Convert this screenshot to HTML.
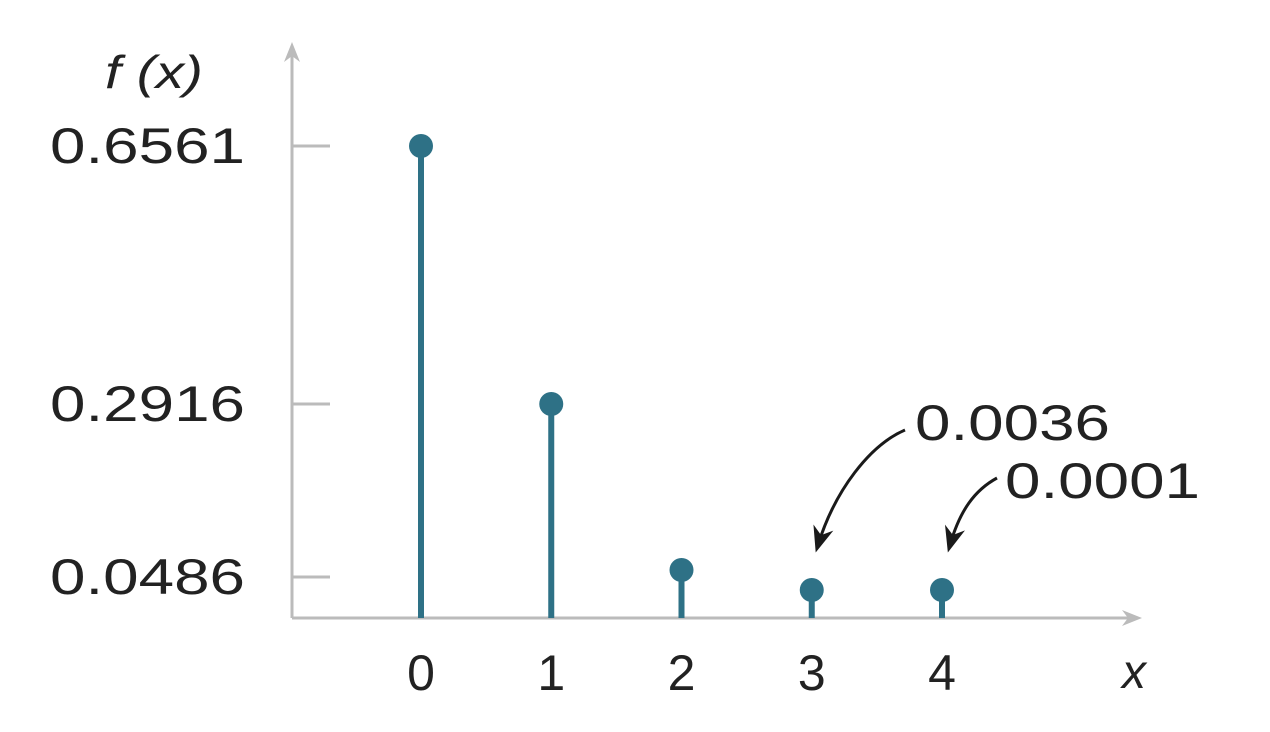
<!DOCTYPE html>
<html><head><meta charset="utf-8"><style>
html,body{margin:0;padding:0;background:#fff;}
svg{display:block;font-family:"Liberation Sans",sans-serif;}
</style></head><body>
<svg width="1270" height="732" viewBox="0 0 1270 732">
<defs>
<marker id="ga" viewBox="0 0 20 20" refX="10" refY="10" markerWidth="20" markerHeight="20" markerUnits="userSpaceOnUse" orient="auto"><path d="M0,2 L20,10 L0,18 L6,10 Z" fill="#bbbbbb"/></marker>
<marker id="ba" viewBox="0 0 20 20" refX="14" refY="10" markerWidth="26" markerHeight="26" markerUnits="userSpaceOnUse" orient="auto"><path d="M0,2 L20,10 L0,18 L6,10 Z" fill="#1a1a1a"/></marker>
</defs>
<g id="axes"></g>
<g id="marks"></g>
<text x="105" y="88" font-size="46" font-style="italic" fill="#222" textLength="98" lengthAdjust="spacingAndGlyphs">f (x)</text>
<text x="1122" y="688" font-size="48" font-style="italic" fill="#222">x</text>
<path d="M905,430 C870,445 835,490 818,545" fill="none" stroke="#1a1a1a" stroke-width="3" marker-end="url(#ba)"/>
<text x="915" y="440" font-size="50" fill="#222" textLength="195" lengthAdjust="spacingAndGlyphs">0.0036</text>
<path d="M997,478 C975,490 960,510 950,545" fill="none" stroke="#1a1a1a" stroke-width="3" marker-end="url(#ba)"/>
<text x="1005" y="498" font-size="50" fill="#222" textLength="195" lengthAdjust="spacingAndGlyphs">0.0001</text>
</svg>
<script>
const categories=[0,1,2,3,4];
const values=[0.6561,0.2916,0.0486,0.0036,0.0001];
const yTicks=[0.0486,0.2916,0.6561];
const yTickLabels=["0.0486","0.2916","0.6561"];
const NS="http://www.w3.org/2000/svg";
const x0=292,base=618;
function xs(c){return 421+c*130.25;}
const kv=[0,0.0486,0.2916,0.6561],kp=[618,577,404,146];
function ys(v){for(let i=1;i<kv.length;i++){if(v<=kv[i]||i==kv.length-1){const t=(v-kv[i-1])/(kv[i]-kv[i-1]);return kp[i-1]+t*(kp[i]-kp[i-1]);}}}
function mk(t,a,p){const e=document.createElementNS(NS,t);for(const k in a)e.setAttribute(k,a[k]);p.appendChild(e);return e;}
const ax=document.getElementById('axes'),mg=document.getElementById('marks');
let l=mk('line',{x1:x0,y1:base,x2:x0,y2:52,stroke:'#bbb','stroke-width':3,'marker-end':'url(#ga)'},ax);


l=mk('line',{x1:x0,y1:base,x2:1132,y2:base,stroke:'#bbb','stroke-width':3,'marker-end':'url(#ga)'},ax);


yTicks.forEach((v,i)=>{const y=ys(v);
 const t=mk('line',{x1:x0,y1:y,x2:330,y2:y,stroke:'#bbb','stroke-width':3},ax);
 
 
 const tx=mk('text',{x:50,y:y+17,'font-size':50,fill:'#222',textLength:195,lengthAdjust:'spacingAndGlyphs'},ax);tx.textContent=yTickLabels[i];
 
 
});
categories.forEach((c,i)=>{const x=xs(c);let y=ys(values[i])-(values[i]>=0.04&&values[i]<0.2?7:0);y=Math.min(y,base-28);
 const s=mk('line',{x1:x,y1:base,x2:x,y2:y,stroke:'#2e7186','stroke-width':6},mg);
 
 
 const d=mk('circle',{cx:x,cy:y,r:12,fill:'#2e7186'},mg);
 
 
 const tx=mk('text',{x:x,y:690,'font-size':50,'text-anchor':'middle',fill:'#222'},ax);tx.textContent=c;
 
 
});
</script>
</body></html>
